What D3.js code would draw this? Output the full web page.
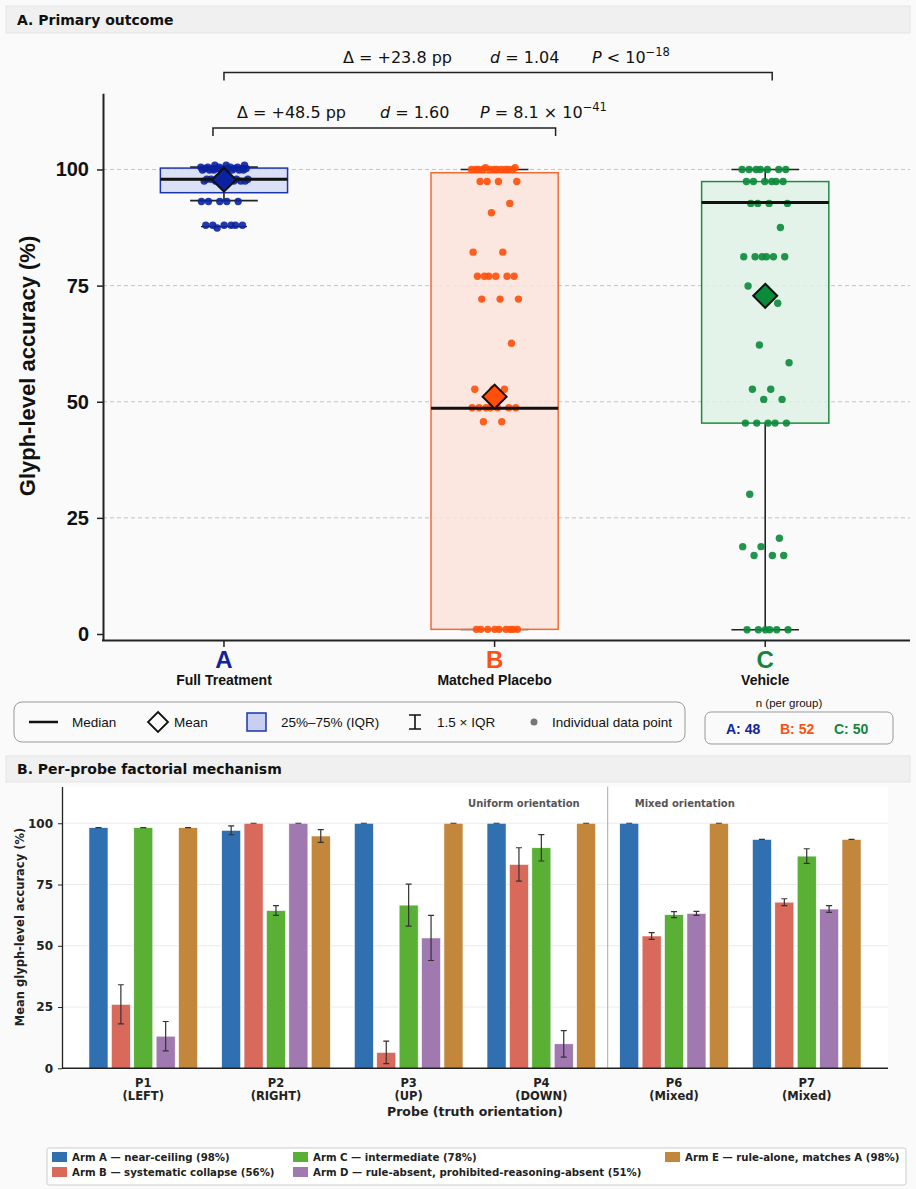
<!DOCTYPE html>
<html><head><meta charset="utf-8">
<script src="https://cdn.jsdelivr.net/npm/d3@7"></script>
<style>
html,body{margin:0;padding:0;background:#fafafa;}
svg{display:block;}
</style></head>
<body>
<svg id="chart" width="916" height="1189"></svg>
<script>
// ---------------- DATA: panel A ----------------
const groups = ["A", "B", "C"];
const groupNames = ["Full Treatment", "Matched Placebo", "Vehicle"];
const groupN = [48, 52, 50];
const boxQ1 = [95.0, 1.0, 45.4];
const boxMedian = [97.9, 48.6, 92.9];
const boxQ3 = [100.3, 99.3, 97.4];
const whiskerLo = [93.3, 1.0, 0.9];
const whiskerHi = [100.5, 100.0, 100.0];
const groupMean = [97.8, 51.1, 72.8];
const pointsA = [100.9,100.9,100.9,100.5,100.5,100.5,100.5,100.5,
  100.2,100.2,100.2,100.2,100.2,100.2,100.2,100.2,
  99.9,99.9,99.9,99.9,99.9,99.9,99.9,99.9,
  97.9,97.9,97.9,97.9,97.9,97.9,97.5,97.5,97.5,97.5,97.5,97.5,
  93.1,93.1,93.1,93.1,93.1,
  88.0,88.0,88.0,88.0,88.0,88.0,87.4];
const pointsB = [100.4,100.4,100.0,100.0,100.0,100.0,100.0,100.0,100.0,100.0,100.0,100.0,100.0,
  97.4,97.4,97.4,97.4, 92.7, 90.7, 82.2,82.2,
  77.0,77.0,77.0,77.0,77.0,77.0, 72.1,72.1,72.1, 62.6,
  52.7,52.7,52.7, 48.7,48.7,48.7,48.7,48.7,48.7,48.7, 45.7,45.7,
  1.0,1.0,1.0,1.0,1.0,1.0,1.0,1.0,1.0];
const pointsC = [100.0,100.0,100.0,100.0,100.0,100.0,100.0,
  97.4,97.4,97.4,97.4,97.4,97.4, 92.7,92.7,92.7,92.7, 87.5,
  81.2,81.2,81.2,81.2,81.2,81.2, 74.9, 71.2, 62.2, 58.4,
  52.7,52.7, 50.5,50.5, 45.4,45.4,45.4,45.4,45.4,
  30.1, 20.6, 18.8,18.8, 16.9,16.9,16.9,
  0.9,0.9,0.9,0.9,0.9,0.9];
const groupPoints = [pointsA, pointsB, pointsC];
const yTicksA = [0, 25, 50, 75, 100];

// ---------------- DATA: panel B ----------------
const probes = ["P1", "P2", "P3", "P4", "P6", "P7"];
const probeSub = ["(LEFT)", "(RIGHT)", "(UP)", "(DOWN)", "(Mixed)", "(Mixed)"];
const arms = ["A", "B", "C", "D", "E"];
const armLabels = ["Arm A \u2014 near-ceiling (98%)", "Arm B \u2014 systematic collapse (56%)",
  "Arm C \u2014 intermediate (78%)", "Arm D \u2014 rule-absent, prohibited-reasoning-absent (51%)",
  "Arm E \u2014 rule-alone, matches A (98%)"];
const armA = [98.2, 97.1, 100, 100, 100, 93.4];
const armB = [26.1, 100, 6.5, 83.2, 54.0, 67.8];
const armC = [98.2, 64.4, 66.6, 90.0, 62.7, 86.6];
const armD = [13.1, 100, 53.2, 10.0, 63.2, 65.0];
const armE = [98.2, 94.8, 100, 100, 100, 93.4];
const errA = [0, 1.8, 0, 0, 0, 0];
const errB = [8.0, 0, 4.6, 6.8, 1.4, 1.4];
const errC = [0, 2.0, 8.6, 5.4, 1.2, 3.0];
const errD = [6.0, 0, 9.2, 5.4, 0.8, 1.4];
const errE = [0, 2.6, 0, 0, 0, 0];
const yTicksB = [0, 25, 50, 75, 100];

// ---------------- STYLE ----------------
const gColor = ["#0b22a0", "#ff4f0a", "#0a8a3a"];
const gFill = ["#d3dbf3", "#fbe3da", "#dff1e5"];
const gEdge = ["#1e34ab", "#f26a35", "#1f8b3f"];
const gLabelColor = ["#13239a", "#ff5010", "#14853a"];
const armColor = ["#3070b0", "#d9695b", "#5aaf35", "#a079b0", "#c2873a"];

const svg = d3.select("#chart");
const SANS = "'Liberation Sans', Arial, sans-serif";
const DJ = "'DejaVu Sans', sans-serif";

svg.append("rect").attr("width", 916).attr("height", 1189).attr("fill", "#fafafa");

function header(y, h, label) {
  svg.append("rect").attr("x", 6).attr("y", y).attr("width", 904).attr("height", h)
    .attr("fill", "#f0f0f0").attr("stroke", "#e4e4e4").attr("stroke-width", 1);
  svg.append("text").attr("x", 17).attr("y", y + h / 2 + 5).text(label)
    .attr("font-family", DJ).attr("font-weight", "bold").attr("font-size", 14).attr("fill", "#111");
}
header(6, 27, "A. Primary outcome");
header(756, 26, "B. Per-probe factorial mechanism");

// ================= PANEL A =================
const yA = d3.scaleLinear().domain([-1.4, 116.4]).range([640.5, 93.3]);
const xA = d3.scaleLinear().domain([-0.447, 2.535]).range([103, 910]);
const gA = svg.append("g");

gA.selectAll("line.grid").data(yTicksA.filter(d => d > 0)).join("line")
  .attr("x1", 103).attr("x2", 910).attr("y1", d => yA(d)).attr("y2", d => yA(d))
  .attr("stroke", "#bdbdbd").attr("stroke-width", 0.9).attr("stroke-dasharray", "4,3");

const boxW = 0.47, capW = 0.25, minCapW = 0.17;
groups.forEach((g, i) => {
  const cx = xA(i);
  const hw = (xA(boxW) - xA(0)) / 2;
  const cw = (xA(capW) - xA(0)) / 2;
  gA.append("line").attr("x1", cx).attr("x2", cx).attr("y1", yA(boxQ1[i])).attr("y2", yA(whiskerLo[i]))
    .attr("stroke", "#222").attr("stroke-width", 1.6);
  gA.append("line").attr("x1", cx).attr("x2", cx).attr("y1", yA(boxQ3[i])).attr("y2", yA(whiskerHi[i]))
    .attr("stroke", "#222").attr("stroke-width", 1.6);
  [whiskerLo[i], whiskerHi[i]].forEach(v => {
    gA.append("line").attr("x1", cx - cw).attr("x2", cx + cw).attr("y1", yA(v)).attr("y2", yA(v))
      .attr("stroke", "#222").attr("stroke-width", 1.6);
  });
  const mn = d3.min(groupPoints[i]);
  if (mn < whiskerLo[i] - 0.5) {
    const mw = (xA(minCapW) - xA(0)) / 2;
    gA.append("line").attr("x1", cx - mw).attr("x2", cx + mw).attr("y1", yA(mn + 0.3)).attr("y2", yA(mn + 0.3))
      .attr("stroke", "#222").attr("stroke-width", 1.4);
  }
  gA.append("rect").attr("x", cx - hw).attr("width", 2 * hw)
    .attr("y", yA(boxQ3[i])).attr("height", yA(boxQ1[i]) - yA(boxQ3[i]))
    .attr("fill", gFill[i]).attr("fill-opacity", 0.85).attr("stroke", gEdge[i]).attr("stroke-width", 1.5);
  const jw = 24;
  gA.selectAll(null).data(groupPoints[i]).join("circle")
    .attr("cx", (d, k) => cx + (((k * 0.618034 + 0.31) % 1) - 0.5) * 2 * jw)
    .attr("cy", d => yA(d)).attr("r", 3.7)
    .attr("fill", gColor[i]).attr("fill-opacity", 0.9);
  gA.append("line").attr("x1", cx - hw).attr("x2", cx + hw).attr("y1", yA(boxMedian[i])).attr("y2", yA(boxMedian[i]))
    .attr("stroke", "#111").attr("stroke-width", 3);
  const my = yA(groupMean[i]), s = 12;
  gA.append("path").attr("d", `M${cx},${my - s}L${cx + s},${my}L${cx},${my + s}L${cx - s},${my}Z`)
    .attr("fill", gColor[i]).attr("stroke", "#111").attr("stroke-width", 2);
});

const axA = d3.axisLeft(yA).tickValues(yTicksA).tickSize(6).tickSizeOuter(0).tickPadding(8);
const axAg = gA.append("g").attr("transform", "translate(103,0)").call(axA);
axAg.select(".domain").attr("stroke", "#222").attr("stroke-width", 2);
axAg.selectAll(".tick line").attr("stroke", "#222").attr("stroke-width", 1.5);
axAg.selectAll(".tick text").attr("font-family", SANS).attr("font-weight", "bold").attr("font-size", 20).attr("fill", "#111");
gA.append("line").attr("x1", 102).attr("x2", 910).attr("y1", 640.5).attr("y2", 640.5).attr("stroke", "#222").attr("stroke-width", 2.2);
groups.forEach((g, i) => {
  gA.append("line").attr("x1", xA(i)).attr("x2", xA(i)).attr("y1", 641).attr("y2", 647).attr("stroke", "#222").attr("stroke-width", 1.5);
  gA.append("text").attr("x", xA(i)).attr("y", 668).attr("text-anchor", "middle").text(g)
    .attr("font-family", SANS).attr("font-weight", "bold").attr("font-size", 24).attr("fill", gLabelColor[i]);
  gA.append("text").attr("x", xA(i)).attr("y", 685).attr("text-anchor", "middle").text(groupNames[i])
    .attr("font-family", SANS).attr("font-weight", "bold").attr("font-size", 14).attr("fill", "#111");
});
gA.append("text").attr("transform", "translate(35,366) rotate(-90)").attr("text-anchor", "middle")
  .text("Glyph-level accuracy (%)").attr("font-family", SANS).attr("font-weight", "bold").attr("font-size", 22).attr("fill", "#111");

function bracket(x1, x2, y, drop) {
  gA.append("path").attr("d", `M${x1},${y + drop}V${y}H${x2}V${y + drop}`)
    .attr("fill", "none").attr("stroke", "#222").attr("stroke-width", 1.5);
}
function mathText(x, y, parts) {
  const t = gA.append("text").attr("x", x).attr("y", y).attr("font-family", DJ).attr("font-size", 16).attr("fill", "#111");
  parts.forEach(p => {
    const s = t.append("tspan").text(p.t);
    if (p.i) s.attr("font-style", "italic");
    if (p.sup) s.attr("font-size", 11.5).attr("dy", -7);
  });
}
bracket(xA(0) - 11, xA(1) + 61, 128, 8);
bracket(xA(0), xA(2) + 7, 72.5, 8);
mathText(237, 118, [{t: "\u0394 = +48.5 pp"}]);
mathText(380, 118, [{t: "d", i: 1}, {t: " = 1.60"}]);
mathText(480, 118, [{t: "P", i: 1}, {t: " = 8.1 \u00d7 10"}, {t: "\u221241", sup: 1}]);
mathText(343, 63, [{t: "\u0394 = +23.8 pp"}]);
mathText(490, 63, [{t: "d", i: 1}, {t: " = 1.04"}]);
mathText(592, 63, [{t: "P", i: 1}, {t: " < 10"}, {t: "\u221218", sup: 1}]);

// legend (panel A)
const lg = svg.append("g");
lg.append("rect").attr("x", 14).attr("y", 702).attr("width", 671).attr("height", 40).attr("rx", 8)
  .attr("fill", "#fafafa").attr("stroke", "#999").attr("stroke-width", 1);
const ly = 722;
const lt = (x, s) => lg.append("text").attr("x", x).attr("y", ly + 5).text(s)
  .attr("font-family", SANS).attr("font-size", 13.5).attr("fill", "#111");
lg.append("line").attr("x1", 29).attr("x2", 58).attr("y1", ly).attr("y2", ly).attr("stroke", "#111").attr("stroke-width", 2.5);
lt(72, "Median");
lg.append("path").attr("d", `M158,${ly - 10}L168,${ly}L158,${ly + 10}L148,${ly}Z`).attr("fill", "#fff").attr("stroke", "#111").attr("stroke-width", 1.8);
lt(174, "Mean");
lg.append("rect").attr("x", 247).attr("y", ly - 9).attr("width", 19).attr("height", 18).attr("fill", "#c7d0f1").attr("stroke", "#1e34ab").attr("stroke-width", 1.5);
lt(281, "25%\u201375% (IQR)");
lg.append("path").attr("d", `M409,${ly - 7}H421M415,${ly - 7}V${ly + 7}M409,${ly + 7}H421`).attr("stroke", "#111").attr("stroke-width", 1.6).attr("fill", "none");
lt(437, "1.5 \u00d7 IQR");
lg.append("circle").attr("cx", 534).attr("cy", ly).attr("r", 3.5).attr("fill", "#777");
lt(552, "Individual data point");

lg.append("text").attr("x", 789).attr("y", 707).attr("text-anchor", "middle").text("n (per group)")
  .attr("font-family", SANS).attr("font-size", 11.5).attr("fill", "#111");
lg.append("rect").attr("x", 705).attr("y", 712).attr("width", 188).attr("height", 32).attr("rx", 6)
  .attr("fill", "#fafafa").attr("stroke", "#999").attr("stroke-width", 1);
groups.forEach((g, i) => {
  lg.append("text").attr("x", 726 + i * 54).attr("y", 733.5).text(`${g}: ${groupN[i]}`)
    .attr("font-family", SANS).attr("font-weight", "bold").attr("font-size", 14).attr("fill", gLabelColor[i]);
});

// ================= PANEL B =================
const gB = svg.append("g");
const yB = d3.scaleLinear().domain([0, 115]).range([1068.3, 786.5]);
const xB = d3.scaleBand().domain(probes).range([62, 888]).paddingInner(0).paddingOuter(0.1125);
const xArm = d3.scaleBand().domain(arms).range([-56, 56]).paddingInner(0.15).paddingOuter(0.075);
const armVals = [armA, armB, armC, armD, armE];
const armErr = [errA, errB, errC, errD, errE];

gB.append("rect").attr("x", 62).attr("y", 786.5).attr("width", 826).attr("height", 282).attr("fill", "#ffffff");
gB.selectAll("line.grid").data(yTicksB.filter(d => d > 0)).join("line")
  .attr("x1", 62).attr("x2", 888).attr("y1", d => yB(d)).attr("y2", d => yB(d))
  .attr("stroke", "#ebebeb").attr("stroke-width", 1);

const sepX = xB("P6");
gB.append("line").attr("x1", sepX).attr("x2", sepX).attr("y1", 786.5).attr("y2", 1068).attr("stroke", "#aaa").attr("stroke-width", 1);
gB.append("text").attr("x", sepX - 28).attr("y", 807).attr("text-anchor", "end").text("Uniform orientation")
  .attr("font-family", DJ).attr("font-weight", "bold").attr("font-size", 10).attr("fill", "#555");
gB.append("text").attr("x", sepX + 27).attr("y", 807).text("Mixed orientation")
  .attr("font-family", DJ).attr("font-weight", "bold").attr("font-size", 10).attr("fill", "#555");

probes.forEach((p, pi) => {
  const c = xB(p) + xB.bandwidth() / 2;
  arms.forEach((a, ai) => {
    const v = armVals[ai][pi], e = armErr[ai][pi];
    const x = c + xArm(a);
    gB.append("rect").attr("x", x).attr("width", xArm.bandwidth())
      .attr("y", yB(v)).attr("height", yB(0) - yB(v))
      .attr("fill", armColor[ai]).attr("stroke", "#ffffff").attr("stroke-width", 0.6);
    const ex = x + xArm.bandwidth() / 2;
    gB.append("path").attr("d", `M${ex - 3},${yB(v + e)}H${ex + 3}M${ex},${yB(v + e)}V${yB(v - e)}M${ex - 3},${yB(v - e)}H${ex + 3}`)
      .attr("stroke", "#333").attr("stroke-width", 1.2).attr("fill", "none");
  });
  gB.append("text").attr("x", c).attr("y", 1087).attr("text-anchor", "middle").text(p)
    .attr("font-family", DJ).attr("font-weight", "bold").attr("font-size", 11.5).attr("fill", "#222");
  gB.append("text").attr("x", c).attr("y", 1100).attr("text-anchor", "middle").text(probeSub[pi])
    .attr("font-family", DJ).attr("font-weight", "bold").attr("font-size", 11.5).attr("fill", "#222");
});

const axB = d3.axisLeft(yB).tickValues(yTicksB).tickSize(4).tickSizeOuter(0).tickPadding(5);
const axBg = gB.append("g").attr("transform", "translate(62,0)").call(axB);
axBg.select(".domain").attr("stroke", "#222").attr("stroke-width", 1.3);
axBg.selectAll(".tick line").attr("stroke", "#222");
axBg.selectAll(".tick text").attr("font-family", DJ).attr("font-weight", "bold").attr("font-size", 12).attr("fill", "#222");
gB.append("line").attr("x1", 62).attr("x2", 888).attr("y1", 1068.3).attr("y2", 1068.3).attr("stroke", "#222").attr("stroke-width", 1.5);
gB.append("text").attr("transform", "translate(24,927) rotate(-90)").attr("text-anchor", "middle")
  .text("Mean glyph-level accuracy (%)").attr("font-family", DJ).attr("font-weight", "bold").attr("font-size", 11.5).attr("fill", "#222");
gB.append("text").attr("x", 475).attr("y", 1116).attr("text-anchor", "middle").text("Probe (truth orientation)")
  .attr("font-family", DJ).attr("font-weight", "bold").attr("font-size", 12.5).attr("fill", "#222");

// legend panel B
const lb = svg.append("g");
lb.append("rect").attr("x", 47).attr("y", 1148).attr("width", 859).attr("height", 37).attr("rx", 2)
  .attr("fill", "#fff").attr("stroke", "#ccc").attr("stroke-width", 1);
const legPos = [[52, 1157], [52, 1172], [293, 1157], [293, 1172], [665, 1157]];
arms.forEach((a, ai) => {
  const [x, y] = legPos[ai];
  lb.append("rect").attr("x", x).attr("y", y - 5).attr("width", 15).attr("height", 10).attr("fill", armColor[ai]);
  lb.append("text").attr("x", x + 20).attr("y", y + 4).text(armLabels[ai])
    .attr("font-family", DJ).attr("font-weight", "bold").attr("font-size", 10.2).attr("fill", "#222");
});
</script>
</body></html>
